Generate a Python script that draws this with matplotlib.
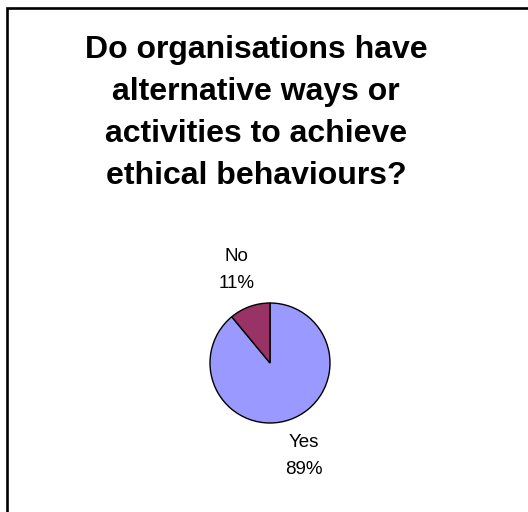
import matplotlib
matplotlib.use("Agg")
import matplotlib.pyplot as plt
from matplotlib.patches import Rectangle

# data
categories = ["Yes", "No"]
values = [89, 11]
colors = ["#9999FF", "#993366"]
title = "Do organisations have\nalternative ways or\nactivities to achieve\nethical behaviours?"

plt.rcParams['font.family'] = ['Liberation Sans', 'DejaVu Sans']

W, H = 528, 512
fig = plt.figure(figsize=(W / 100, H / 100), dpi=100)
fig.patch.set_facecolor("white")

# chart border (only top and left visible in the crop)
fig.add_artist(Rectangle((7 / W, -0.2), 1.5, 1.2 - 7.5 / H,
                         transform=fig.transFigure, fill=False,
                         edgecolor="black", linewidth=1.9))

fig.text(256 / W, 1 - 113 / H, title, ha="center", va="center",
         fontsize=23, fontweight="bold", linespacing=1.53)

# pie axes: centre (270, 363), radius 60 px
r = 60
ax = fig.add_axes([(270 - r) / W, (H - 363 - r) / H, 2 * r / W, 2 * r / H])
total = sum(values)
labels = ["{}\n{:.0f}%".format(c, v * 100.0 / total) for c, v in zip(categories, values)]
ax.pie(values, labels=labels, colors=colors, startangle=90, counterclock=False,
       labeldistance=1.65,
       wedgeprops=dict(edgecolor="black", linewidth=1.0),
       textprops=dict(ha="center", va="center", fontsize=13.5, linespacing=1.8))
ax.set_xlim(-1, 1)
ax.set_ylim(-1, 1)
ax.axis("off")

fig.savefig("out.png", dpi=100)
